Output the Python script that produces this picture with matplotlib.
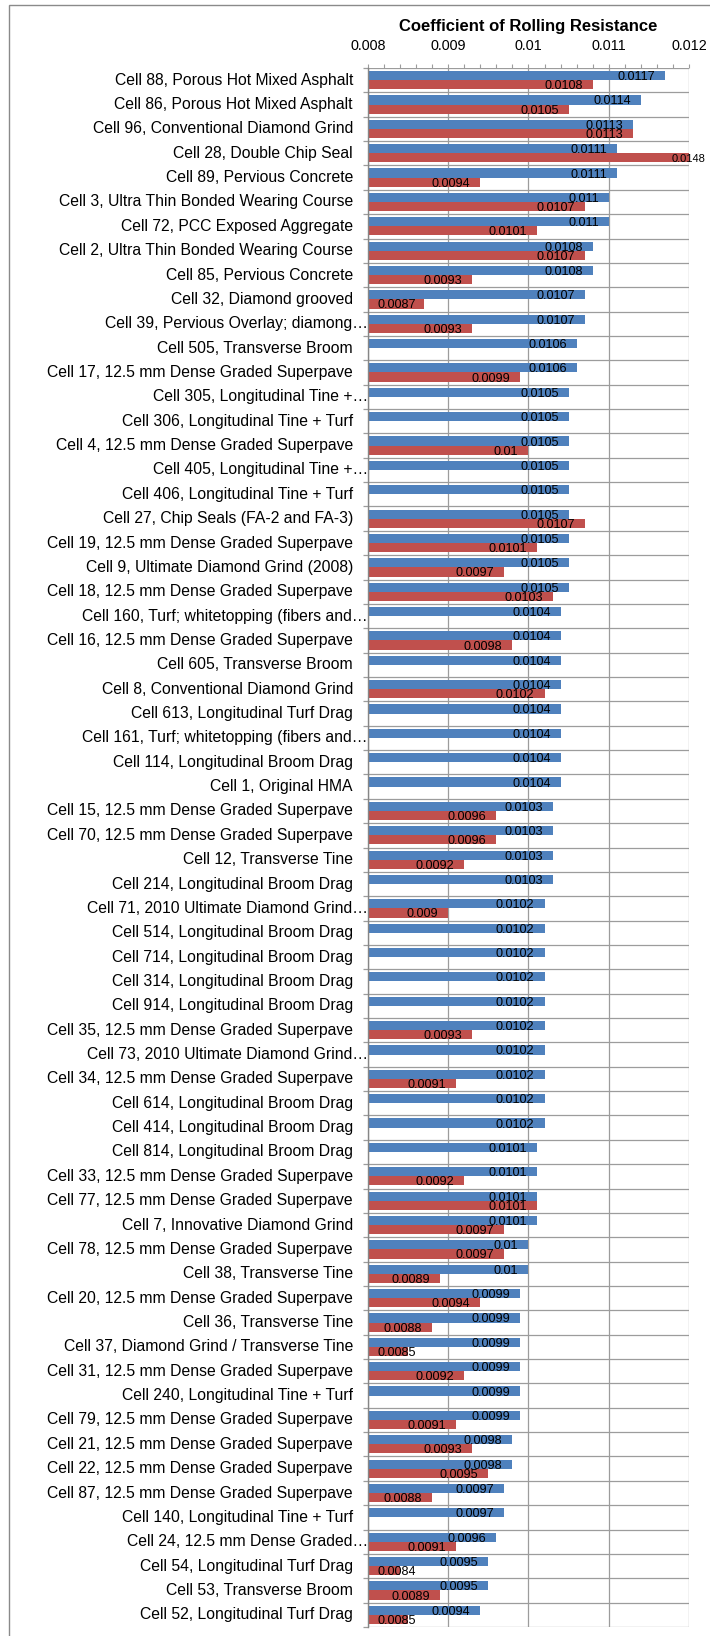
import numpy as np
import matplotlib.pyplot as plt
from matplotlib.patches import Rectangle
from matplotlib.transforms import offset_copy

plt.rcParams['font.family'] = ['Liberation Sans', 'DejaVu Sans']

cells = [
    "Cell 88, Porous Hot Mixed Asphalt",
    "Cell 86, Porous Hot Mixed Asphalt",
    "Cell 96, Conventional Diamond Grind",
    "Cell 28, Double Chip Seal",
    "Cell 89, Pervious Concrete",
    "Cell 3, Ultra Thin Bonded Wearing Course",
    "Cell 72, PCC Exposed Aggregate",
    "Cell 2, Ultra Thin Bonded Wearing Course",
    "Cell 85, Pervious Concrete",
    "Cell 32, Diamond grooved",
    "Cell 39, Pervious Overlay; diamong\u2026",
    "Cell 505, Transverse Broom",
    "Cell 17, 12.5 mm Dense Graded Superpave",
    "Cell 305, Longitudinal Tine +\u2026",
    "Cell 306, Longitudinal Tine + Turf",
    "Cell 4, 12.5 mm Dense Graded Superpave",
    "Cell 405, Longitudinal Tine +\u2026",
    "Cell 406, Longitudinal Tine + Turf",
    "Cell 27, Chip Seals (FA-2 and FA-3)",
    "Cell 19, 12.5 mm Dense Graded Superpave",
    "Cell 9, Ultimate Diamond Grind (2008)",
    "Cell 18, 12.5 mm Dense Graded Superpave",
    "Cell 160, Turf; whitetopping (fibers and\u2026",
    "Cell 16, 12.5 mm Dense Graded Superpave",
    "Cell 605, Transverse Broom",
    "Cell 8, Conventional Diamond Grind",
    "Cell 613, Longitudinal Turf Drag",
    "Cell 161, Turf; whitetopping (fibers and\u2026",
    "Cell 114, Longitudinal Broom Drag",
    "Cell 1, Original HMA",
    "Cell 15, 12.5 mm Dense Graded Superpave",
    "Cell 70, 12.5 mm Dense Graded Superpave",
    "Cell 12, Transverse Tine",
    "Cell 214, Longitudinal Broom Drag",
    "Cell 71, 2010 Ultimate Diamond Grind\u2026",
    "Cell 514, Longitudinal Broom Drag",
    "Cell 714, Longitudinal Broom Drag",
    "Cell 314, Longitudinal Broom Drag",
    "Cell 914, Longitudinal Broom Drag",
    "Cell 35, 12.5 mm Dense Graded Superpave",
    "Cell 73, 2010 Ultimate Diamond Grind\u2026",
    "Cell 34, 12.5 mm Dense Graded Superpave",
    "Cell 614, Longitudinal Broom Drag",
    "Cell 414, Longitudinal Broom Drag",
    "Cell 814, Longitudinal Broom Drag",
    "Cell 33, 12.5 mm Dense Graded Superpave",
    "Cell 77, 12.5 mm Dense Graded Superpave",
    "Cell 7, Innovative Diamond Grind",
    "Cell 78, 12.5 mm Dense Graded Superpave",
    "Cell 38, Transverse Tine",
    "Cell 20, 12.5 mm Dense Graded Superpave",
    "Cell 36, Transverse Tine",
    "Cell 37, Diamond Grind / Transverse Tine",
    "Cell 31, 12.5 mm Dense Graded Superpave",
    "Cell 240, Longitudinal Tine + Turf",
    "Cell 79, 12.5 mm Dense Graded Superpave",
    "Cell 21, 12.5 mm Dense Graded Superpave",
    "Cell 22, 12.5 mm Dense Graded Superpave",
    "Cell 87, 12.5 mm Dense Graded Superpave",
    "Cell 140, Longitudinal Tine + Turf",
    "Cell 24, 12.5 mm Dense Graded\u2026",
    "Cell 54, Longitudinal Turf Drag",
    "Cell 53, Transverse Broom",
    "Cell 52, Longitudinal Turf Drag",
]

# first series (blue, upper bar of each pair)
crr_blue = [
    0.0117, 0.0114, 0.0113, 0.0111, 0.0111, 0.011, 0.011, 0.0108, 0.0108, 0.0107,
    0.0107, 0.0106, 0.0106, 0.0105, 0.0105, 0.0105, 0.0105, 0.0105, 0.0105, 0.0105,
    0.0105, 0.0105, 0.0104, 0.0104, 0.0104, 0.0104, 0.0104, 0.0104, 0.0104, 0.0104,
    0.0103, 0.0103, 0.0103, 0.0103, 0.0102, 0.0102, 0.0102, 0.0102, 0.0102, 0.0102,
    0.0102, 0.0102, 0.0102, 0.0102, 0.0101, 0.0101, 0.0101, 0.0101, 0.01, 0.01,
    0.0099, 0.0099, 0.0099, 0.0099, 0.0099, 0.0099, 0.0098, 0.0098, 0.0097, 0.0097,
    0.0096, 0.0095, 0.0095, 0.0094,
]

# second series (red, lower bar); None where the cell has no value
crr_red = [
    0.0108, 0.0105, 0.0113, 0.0148, 0.0094, 0.0107, 0.0101, 0.0107, 0.0093, 0.0087,
    0.0093, None, 0.0099, None, None, 0.01, None, None, 0.0107, 0.0101,
    0.0097, 0.0103, None, 0.0098, None, 0.0102, None, None, None, None,
    0.0096, 0.0096, 0.0092, None, 0.009, None, None, None, None, 0.0093,
    None, 0.0091, None, None, None, 0.0092, 0.0101, 0.0097, 0.0097, 0.0089,
    0.0094, 0.0088, 0.0085, 0.0092, None, 0.0091, 0.0093, 0.0095, 0.0088, None,
    0.0091, 0.0084, 0.0089, 0.0085,
]

x_ticks = [0.008, 0.009, 0.01, 0.011, 0.012]

BLUE = '#4F81BD'
RED = '#C0504D'
GRID = '#9c9c9c'
XMIN, XMAX = x_ticks[0], x_ticks[-1]
PX = 0.72  # points per pixel at dpi 100

W, H = 710, 1636
fig = plt.figure(figsize=(W / 100, H / 100), dpi=100)
ax_l, ax_r, ax_t, ax_b = 368, 689, 68, 1627
ax = fig.add_axes([ax_l / W, 1 - ax_b / H, (ax_r - ax_l) / W, (ax_b - ax_t) / H])

# light grey frame around the chart area
fig.patches.append(Rectangle((9 / W, -0.01), 1.0, 1 - 5 / H + 0.01,
                             transform=fig.transFigure, fill=False,
                             edgecolor='#8a8a8a', lw=1.0))

n = len(cells)
y = np.arange(n)
h = 0.375
blue = np.array(crr_blue, dtype=float)
red = np.array([np.nan if v is None else v for v in crr_red], dtype=float)
has_red = ~np.isnan(red)

ax.barh(y - h / 2, blue - XMIN, left=XMIN, height=h, color=BLUE, zorder=3)
ax.barh(y[has_red] + h / 2, red[has_red] - XMIN, left=XMIN, height=h,
        color=RED, zorder=3)

ax.set_xlim(XMIN, XMAX)
ax.set_ylim(n - 0.5, -0.5)

# value axis on top with minor ticks
ax.xaxis.tick_top()
ax.set_xticks(x_ticks)
ax.set_xticklabels([f"{v:g}" for v in x_ticks], fontsize=10.4)
ax.set_xticks(np.arange(XMIN, XMAX + 1e-9, 0.0002), minor=True)
ax.tick_params(axis='x', which='both', direction='out', length=4 * PX,
               color=GRID, width=0.8, pad=11 * PX, labelcolor='black')

# category separators
ax.set_yticks([])
ax.set_yticks(np.arange(-0.5, n, 1.0), minor=True)
ax.tick_params(axis='y', which='minor', direction='out', length=5 * PX,
               color=GRID, width=0.9, labelleft=False)
ax.grid(True, axis='y', which='minor', color=GRID, lw=0.9, zorder=1)
ax.grid(True, axis='x', which='major', color=GRID, lw=0.9, zorder=1)
ax.set_axisbelow(True)

for side in ['top', 'right', 'bottom']:
    ax.spines[side].set_visible(False)
ax.spines['left'].set_color('#868686')
ax.spines['left'].set_linewidth(1.0)
ax.spines['left'].set_zorder(4)

# category labels, truncated ones run up to the axis line
ytrans = ax.get_yaxis_transform()
for i, name in enumerate(cells):
    shift = 0 if name.endswith('\u2026') else -15
    tr = offset_copy(ytrans, fig=fig, x=shift, y=0, units='dots')
    ax.text(0, i, name, transform=tr, ha='right', va='center',
            fontsize=11.3, color='black')

fig.text((ax_l + ax_r) / 2 / W, 1 - 26 / H, 'Coefficient of Rolling Resistance',
         ha='center', va='center', fontsize=12, fontweight='bold')

# value labels sit just inside the end of each bar
labels = []
for vals, off in ((blue, -h / 2), (red, h / 2)):
    for i, v in enumerate(vals):
        if np.isnan(v):
            continue
        if v > XMAX:
            ax.annotate(f"{v:g}", xy=(XMAX, i + off), xytext=(-17 * PX, 0),
                        textcoords='offset points', ha='left',
                        va='center_baseline', fontsize=8, zorder=5,
                        annotation_clip=False)
            continue
        t = ax.annotate(f"{v:g}", xy=(v, i + off), xytext=(-10 * PX, 0),
                        textcoords='offset points', ha='right',
                        va='center_baseline', fontsize=9.1, zorder=5)
        labels.append((t, i + off))

fig.canvas.draw()
left_px = ax.transData.transform((XMIN, 0))[0]
for t, yc in labels:
    bb = t.get_window_extent()
    if bb.x0 < left_px + 10:
        t.xy = (XMIN, yc)
        t.set_position((10 * PX, 0))
        t.set_ha('left')

fig.savefig('out.png', dpi=100)
